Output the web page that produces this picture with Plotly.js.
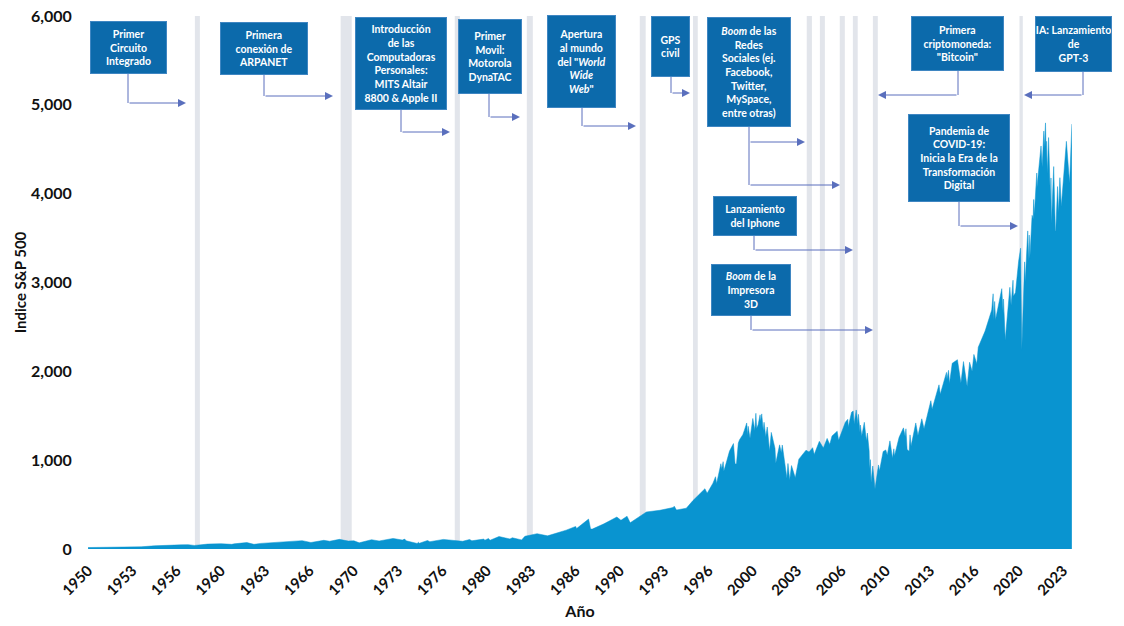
<!DOCTYPE html>
<html>
<head>
<meta charset="utf-8">
<script src="https://cdn.plot.ly/plotly-3.0.1.min.js"></script>
<style>
  html, body { margin: 0; padding: 0; background: #ffffff; }
  #chart { width: 1124px; height: 626px; }
</style>
</head>
<body>
<div id="chart"></div>
<script>
// ---------------- DATA ----------------
const dates = [
"1950-01-03","1950-06-30","1950-12-29","1951-06-29","1951-12-31","1952-12-31","1953-09-14","1953-12-31",
"1954-12-31","1955-12-30","1956-08-02","1956-12-31","1957-07-15","1957-10-22","1957-12-31","1958-12-31",
"1959-08-03","1959-12-31","1960-10-25","1960-12-30","1961-12-12","1962-06-26","1962-12-31","1963-12-31",
"1964-12-31","1965-12-31","1966-02-09","1966-10-07","1966-12-30","1967-09-25","1968-03-05","1968-11-29",
"1969-07-29","1969-12-31","1970-05-26","1970-12-31","1971-04-28","1971-11-23","1972-12-11","1973-08-22",
"1973-10-26","1973-12-05","1974-10-03","1974-11-07","1974-12-06","1975-07-15","1975-09-16","1976-09-21",
"1977-12-30","1978-03-06","1978-09-12","1978-11-14","1979-10-05","1979-11-07","1980-02-13","1980-03-27",
"1980-11-28","1981-09-25","1981-11-30","1982-08-12","1982-11-09","1983-10-10","1984-07-24","1985-12-16",
"1986-09-04","1986-09-29","1987-08-25","1987-10-19","1987-12-04","1988-10-21","1989-10-09","1990-01-30",
"1990-07-16","1990-10-11","1991-12-31","1992-12-31","1993-12-31","1994-02-02","1994-04-04","1994-12-30",
"1995-06-30","1995-12-29","1996-05-24","1996-07-24","1996-12-31","1997-03-11","1997-04-11","1997-08-06",
"1997-08-29","1997-10-07","1997-10-27","1997-12-31","1998-03-31","1998-07-17","1998-08-31","1998-10-08",
"1998-11-27","1998-12-31","1999-03-31","1999-05-14","1999-07-16","1999-08-10","1999-08-25","1999-10-15",
"1999-12-31","2000-02-25","2000-03-24","2000-04-14","2000-05-24","2000-07-17","2000-08-01","2000-09-01",
"2000-10-12","2000-11-03","2000-12-20","2001-01-30","2001-03-22","2001-04-04","2001-05-21","2001-08-31",
"2001-09-21","2002-01-04","2002-02-20","2002-03-19","2002-07-23","2002-08-22","2002-10-09","2002-11-27",
"2003-03-11","2003-06-17","2003-12-31","2004-03-24","2004-06-30","2004-08-12","2004-12-31","2005-04-20",
"2005-08-02","2005-10-13","2005-12-14","2006-05-05","2006-06-13","2006-12-15","2007-02-20","2007-03-05",
"2007-06-04","2007-07-19","2007-08-15","2007-10-09","2007-11-26","2007-12-10","2008-01-22","2008-02-01",
"2008-03-10","2008-05-19","2008-07-15","2008-08-11","2008-09-29","2008-10-10","2008-11-04","2008-11-20",
"2009-01-06","2009-03-09","2009-06-12","2009-07-10","2009-10-19","2009-12-31","2010-02-08","2010-04-23",
"2010-07-02","2010-08-09","2010-08-26","2010-12-31","2011-04-29","2011-06-15","2011-07-07","2011-08-08",
"2011-10-03","2011-10-27","2011-11-25","2012-04-02","2012-06-01","2012-09-14","2012-11-15","2013-05-21",
"2013-06-24","2013-12-31","2014-02-03","2014-07-24","2014-08-07","2014-09-18","2014-10-15","2014-12-29",
"2015-05-21","2015-08-25","2015-11-03","2016-02-11","2016-04-20","2016-06-27","2016-08-15","2016-11-04",
"2016-12-13","2017-06-19","2017-12-18","2018-01-26","2018-02-08","2018-03-09","2018-04-02","2018-09-20",
"2018-10-29","2018-11-07","2018-12-24","2019-04-30","2019-06-03","2019-07-26","2019-08-05","2019-10-02",
"2019-12-27","2020-02-19","2020-03-23","2020-06-08","2020-06-26","2020-09-02","2020-09-23","2020-10-12",
"2020-10-30","2020-12-31","2021-01-29","2021-02-12","2021-03-04","2021-05-07","2021-05-12","2021-07-23",
"2021-09-02","2021-10-04","2021-11-18","2021-12-01","2022-01-03","2022-01-27","2022-02-02","2022-02-23",
"2022-03-29","2022-05-20","2022-06-02","2022-06-16","2022-08-16","2022-09-30","2022-10-12","2022-11-30",
"2022-12-28","2023-02-02","2023-03-13","2023-07-31","2023-10-27","2023-12-28"
];
const spIndex = [
16.7,17.7,20.4,21.0,23.8,26.6,22.7,24.8,
36.0,45.5,49.7,46.7,49.1,39.0,40.0,55.2,
60.7,59.9,52.3,58.1,72.6,52.3,63.1,75.0,
84.8,92.4,94.1,73.2,80.3,97.6,87.7,108.4,
89.5,92.1,69.3,92.2,104.8,90.2,119.1,100.5,
111.4,92.2,62.3,75.2,65.0,95.6,82.1,107.8,
95.1,86.9,107.0,92.5,111.3,99.9,118.4,98.2,
140.5,112.8,126.4,102.4,143.0,172.7,147.8,212.0,
253.8,229.9,336.8,224.8,223.9,283.7,359.8,323.0,
369.0,295.5,417.1,435.7,466.5,482.0,438.9,459.3,
544.8,615.9,678.5,626.7,740.7,813.7,737.7,960.3,
899.5,983.1,877.0,970.4,1101.8,1186.8,957.3,959.4,
1192.3,1229.2,1286.4,1337.8,1418.8,1281.4,1381.8,1247.4,
1469.3,1333.4,1527.5,1356.6,1399.1,1510.5,1438.1,1520.8,
1329.8,1426.7,1264.7,1373.7,1117.6,1103.3,1312.8,1133.6,
965.8,1172.5,1083.3,1170.3,797.7,962.7,776.8,938.9,
800.7,1011.7,1111.9,1091.5,1140.8,1063.2,1211.9,1137.5,
1245.0,1177.0,1272.7,1325.8,1223.7,1427.1,1459.7,1374.1,
1539.2,1553.1,1406.7,1565.2,1407.2,1516.0,1310.5,1395.4,
1273.4,1426.6,1214.9,1305.3,1106.4,899.2,1005.8,752.4,
934.7,676.5,946.2,879.1,1097.9,1115.1,1056.7,1217.3,
1022.6,1127.8,1047.2,1257.6,1363.6,1265.4,1353.2,1119.5,
1099.2,1284.6,1158.7,1419.0,1278.0,1465.8,1353.3,1669.2,
1573.1,1848.4,1741.9,1988.0,1909.6,2011.4,1862.5,2090.6,
2130.8,1867.6,2109.8,1829.1,2102.4,2000.5,2190.2,2085.2,
2271.7,2453.5,2690.2,2872.9,2581.0,2786.6,2581.9,2930.8,
2641.3,2813.9,2351.1,2945.8,2744.5,3025.9,2844.7,2887.6,
3240.0,3386.2,2237.4,3232.4,3009.1,3580.8,3236.9,3534.2,
3270.0,3756.1,3714.2,3934.8,3768.5,4232.6,4063.0,4411.8,
4537.0,4300.5,4704.5,4513.0,4796.6,4326.5,4589.4,4225.5,
4631.6,3901.4,4176.8,3666.8,4305.2,3585.6,3577.0,4080.1,
3783.2,4179.8,3855.8,4589.0,4117.4,4783.4
];

// event bands (start / end dates)
const bandStart = ["1958-01-15","1969-01-01","1977-08-01","1983-01-01","1991-07-01","1995-07-01",
                   "2004-01-20","2005-01-15","2006-07-15","2007-07-10","2009-01-10","2020-01-20"];
const bandEnd   = ["1958-06-01","1969-11-01","1977-12-20","1983-06-15","1991-12-10","1995-11-10",
                   "2004-06-10","2005-06-01","2006-12-01","2007-11-20","2009-05-25","2020-04-20"];

// x tick labels
const tickDates = ["1950-01-01","1953-05-01","1956-09-01","1960-01-01","1963-05-01","1966-09-01",
                   "1970-01-01","1973-05-01","1976-09-01","1980-01-01","1983-05-01","1986-09-01",
                   "1990-01-01","1993-05-01","1996-09-01","2000-01-01","2003-05-01","2006-09-01",
                   "2010-01-01","2013-05-01","2016-09-01","2020-01-01","2023-05-01"];
const tickLabels = ["1950","1953","1956","1960","1963","1966","1970","1973","1976","1980","1983","1986",
                    "1990","1993","1996","2000","2003","2006","2010","2013","2016","2020","2023"];

// event texts
const eventTexts = [
  "Primer<br>Circuito<br>Integrado",
  "Primera<br>conexión de<br>ARPANET",
  "Introducción<br>de las<br>Computadoras<br>Personales:<br>MITS Altair<br>8800 & Apple II",
  "Primer<br>Movil:<br>Motorola<br>DynaTAC",
  "Apertura<br>al mundo<br>del \"<i>World</i><br><i>Wide</i><br><i>Web</i>\"",
  "GPS<br>civil",
  "<i>Boom</i> de las<br>Redes<br>Sociales (ej.<br>Facebook,<br>Twitter,<br>MySpace,<br>entre otras)",
  "Lanzamiento<br>del Iphone",
  "<i>Boom</i> de la<br>Impresora<br>3D",
  "Primera<br>criptomoneda:<br>\"Bitcoin\"",
  "IA: Lanzamiento<br>de<br>GPT-3",
  "Pandemia de<br>COVID-19:<br>Inicia la Era de la<br>Transformación<br>Digital"
];

// ---------------- LAYOUT GEOMETRY (pixels) ----------------
const L = 88, R = 1072, T = 16, B = 549;
const PX = p => (p - L) / (R - L);
const PY = p => (B - p) / (B - T);

// box [x0,y0,x1,y1], connector x, arrows [yLevel, tipX]
const boxGeom = [
  {b:[90,21,167,74],   sx:128,  arr:[[103,186]]},
  {b:[220,22,308,75],  sx:264,  arr:[[96,333]]},
  {b:[355,17,447,110], sx:401,  arr:[[132,450]]},
  {b:[458,19,522,94],  sx:489,  arr:[[117,520]]},
  {b:[547,15,616,108], sx:582,  arr:[[126,636]]},
  {b:[651,16,690,77],  sx:671,  arr:[[93,690]]},
  {b:[707,17,791,127], sx:749,  arr:[[142,805],[185,840]]},
  {b:[713,196,797,236],sx:754,  arr:[[250,853]]},
  {b:[711,264,791,316],sx:751,  arr:[[330,873]]},
  {b:[911,16,1004,71], sx:958,  arr:[[95,878]]},
  {b:[1035,16,1112,72],sx:1083, arr:[[95,1024]]},
  {b:[908,114,1010,202],sx:959, arr:[[226,1018]]}
];

const AREA = "#0994d0", BAND = "#e2e5eb", BOX = "#0c6aab", BOXLINE = "#3f86c2", ARROW = "#5a6fbd";
const FONT = "Lato, 'Open Sans', sans-serif";

const shapes = [];
bandStart.forEach((s, i) => {
  shapes.push({type:"rect", xref:"x", yref:"paper", x0:s, x1:bandEnd[i], y0:0, y1:1,
               fillcolor:BAND, line:{width:0}, layer:"below"});
});

const annotations = [];
boxGeom.forEach((g, i) => {
  const [x0,y0,x1,y1] = g.b;
  annotations.push({
    xref:"paper", yref:"paper", x:PX(x0), y:PY(y0), xanchor:"left", yanchor:"top",
    width:x1-x0-2, height:y1-y0-2, showarrow:false, text:eventTexts[i],
    bgcolor:BOX, bordercolor:BOXLINE, borderwidth:1, borderpad:0, align:"center", valign:"middle",
    font:{family:FONT, size:10.5, color:"#ffffff", weight:"bold"}
  });
  const maxY = Math.max(...g.arr.map(a => a[0]));
  shapes.push({type:"line", xref:"paper", yref:"paper", x0:PX(g.sx), x1:PX(g.sx), y0:PY(y1), y1:PY(maxY),
               line:{color:ARROW, width:1}, layer:"above"});
  g.arr.forEach(a => {
    annotations.push({
      xref:"paper", yref:"paper", x:PX(a[1]), y:PY(a[0]), ax:g.sx - a[1], ay:0,
      text:"", showarrow:true, arrowhead:2, arrowsize:1.6, arrowwidth:1, arrowcolor:ARROW, standoff:0, startstandoff:0
    });
  });
});

const trace = {
  type:"scatter", mode:"lines", x:dates, y:spIndex, fill:"tozeroy",
  fillcolor:AREA, line:{color:AREA, width:0.5}, hoverinfo:"skip"
};

const layout = {
  width:1124, height:626,
  margin:{l:L, r:1124-R, t:T, b:626-B},
  paper_bgcolor:"#ffffff", plot_bgcolor:"rgba(0,0,0,0)",
  showlegend:false,
  font:{family:FONT, color:"#000000"},
  xaxis:{
    type:"date", range:["1950-01-01","2024-01-01"],
    tickmode:"array", tickvals:tickDates, ticktext:tickLabels, tickangle:-45,
    ticks:"outside", ticklen:6, tickcolor:"rgba(0,0,0,0)",
    tickfont:{family:FONT, size:15, color:"#111111", weight:"bold"},
    showgrid:false, zeroline:false, showline:false, automargin:false,
    title:{text:"Año", font:{family:FONT, size:16, color:"#111111", weight:"bold"}}
  },
  yaxis:{
    range:[0,6000], dtick:1000, tick0:0, tickformat:",",
    ticks:"outside", ticklen:12, tickcolor:"rgba(0,0,0,0)",
    tickfont:{family:FONT, size:16, color:"#111111", weight:"bold"},
    showgrid:false, zeroline:false, showline:false, automargin:false,
    title:{text:"Indice S&P 500", font:{family:FONT, size:15, color:"#111111", weight:"bold"}}
  },
  shapes:shapes,
  annotations:annotations
};

Plotly.newPlot("chart", [trace], layout, {displayModeBar:false, staticPlot:true});
</script>
</body>
</html>
